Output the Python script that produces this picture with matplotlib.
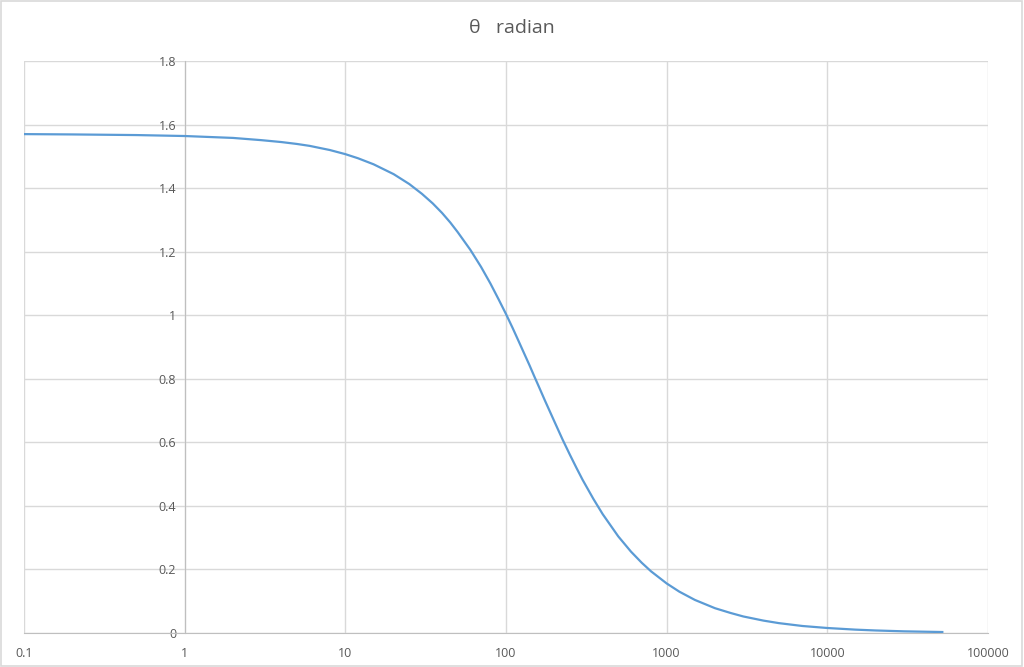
import numpy as np
import matplotlib.pyplot as plt
from matplotlib.patches import Rectangle
from matplotlib.ticker import FixedLocator, FuncFormatter, NullLocator


# values
x_vals = [0.1, 0.2, 0.5, 1, 2, 3, 4, 5, 6, 7, 8, 10, 12, 15, 20, 25, 30,
          35, 40, 45, 50, 60, 65, 70, 80, 90, 100, 110, 120, 130, 140,
          150, 160, 175, 200, 225, 250, 275, 300, 350, 400, 500, 600,
          700, 800, 1000, 1200, 1500, 2000, 2500, 3000, 4000, 5000,
          7000, 10000, 15000, 20000, 30000, 52000]
theta_vals = [1.570, 1.569, 1.567, 1.564, 1.558, 1.551, 1.545, 1.539,
              1.533, 1.526, 1.520, 1.507, 1.494, 1.475, 1.444, 1.413,
              1.382, 1.352, 1.322, 1.292, 1.262, 1.206, 1.178, 1.152,
              1.100, 1.050, 1.004, 0.960, 0.918, 0.879, 0.843, 0.808,
              0.776, 0.731, 0.666, 0.609, 0.561, 0.519, 0.482, 0.422,
              0.374, 0.304, 0.256, 0.221, 0.194, 0.156, 0.130, 0.104,
              0.078, 0.063, 0.052, 0.039, 0.031, 0.022, 0.0157, 0.0105,
              0.0079, 0.0052, 0.003]
x_ticks = [0.1, 1, 10, 100, 1000, 10000, 100000]
y_ticks = [0, 0.2, 0.4, 0.6, 0.8, 1.0, 1.2, 1.4, 1.6, 1.8]

TXT = '#595959'
GRID = '#D9D9D9'


def main():
    plt.rcParams['font.family'] = ['Open Sans', 'DejaVu Sans']
    fig = plt.figure(figsize=(10.24, 6.67), dpi=100)
    ax = fig.add_axes([0.0234, 0.051, 0.9414, 0.8575])

    ax.plot(x_vals, theta_vals, color='#5B9BD5', lw=1.6, zorder=3,
            solid_joinstyle='round')

    ax.set_xscale('log')
    ax.set_xlim(0.1, 100000)
    ax.set_ylim(0, 1.8)
    ax.xaxis.set_major_locator(FixedLocator(x_ticks))
    ax.xaxis.set_minor_locator(NullLocator())
    ax.xaxis.set_major_formatter(FuncFormatter(lambda v, p: '{:g}'.format(v)))
    ax.yaxis.set_major_locator(FixedLocator(y_ticks))
    ax.yaxis.set_major_formatter(FuncFormatter(lambda v, p: '{:g}'.format(round(v, 1))))

    ax.grid(True, color=GRID, lw=1.0, zorder=0)
    ax.set_axisbelow(True)

    # value axis crosses at x = 1
    ax.spines['left'].set_position(('data', 1))
    ax.spines['left'].set_color('#BFBFBF')
    ax.spines['bottom'].set_color('#BFBFBF')
    ax.spines['top'].set_visible(False)
    ax.spines['right'].set_visible(False)
    ax.tick_params(length=0, labelsize=9, labelcolor=TXT)
    ax.tick_params(axis='x', pad=10)
    ax.tick_params(axis='y', pad=6)

    fig.text(0.5, 0.958, '\u03b8   radian', ha='center', va='center',
             fontsize=14, color=TXT)
    fig.patches.append(Rectangle((0.0005, 0.0008), 0.998, 0.997,
                                 transform=fig.transFigure, fill=False,
                                 edgecolor=GRID, lw=1.2))

    plt.savefig('out.png', dpi=100)


if __name__ == "__main__":
    main()
